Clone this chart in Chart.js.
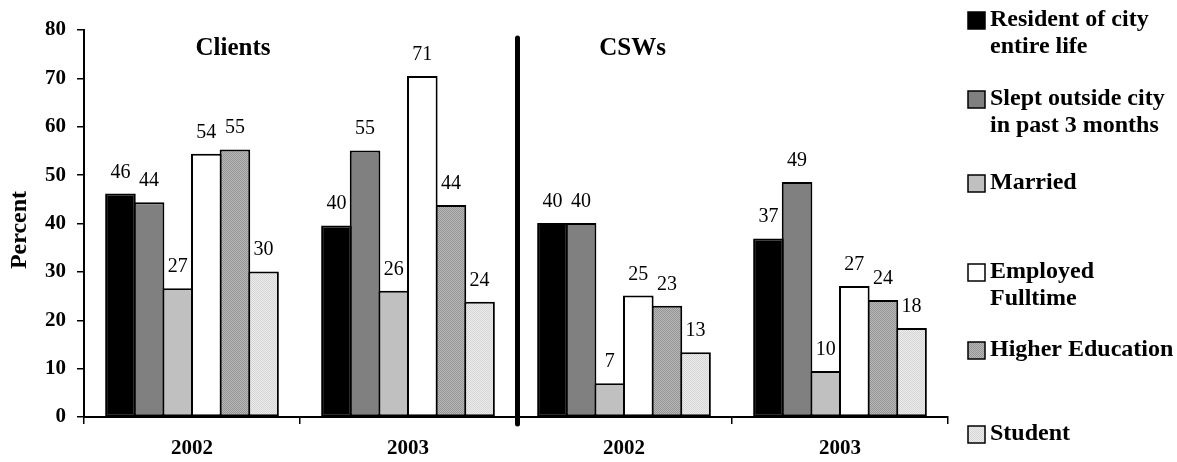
<!DOCTYPE html>
<html>
<head>
<meta charset="utf-8">
<script src="https://cdn.jsdelivr.net/npm/chart.js@4.4.1/dist/chart.umd.min.js"></script>
<style>
  html, body { margin: 0; padding: 0; background: #fff; }
  #wrap { width: 1177px; height: 462px; position: relative; }
</style>
</head>
<body>
<div id="wrap"><canvas id="c" width="1177" height="462"></canvas></div>
<script>
// ---- data ----
const categories = ["2002", "2003", "2002", "2003"];
const groupTitles = ["Clients", "CSWs"];
const seriesNames = [
  ["Resident of city", "entire life"],
  ["Slept outside city", "in past 3 months"],
  ["Married"],
  ["Employed", "Fulltime"],
  ["Higher Education"],
  ["Student"]
];
const residentValues  = [46.2, 39.6, 40.1, 36.9];
const sleptValues     = [44.4, 55.1, 40.1, 48.6];
const marriedValues   = [26.6, 26.1, 7.0, 9.5];
const employedValues  = [54.4, 70.5, 25.1, 27.1];
const higherEdValues  = [55.3, 43.8, 23.0, 24.2];
const studentValues   = [30.1, 23.8, 13.4, 18.4];
const yTicks = [0, 10, 20, 30, 40, 50, 60, 70, 80];

// ---- patterns ----
function dotPattern(a, b) {
  const p = document.createElement('canvas');
  p.width = 2; p.height = 2;
  const g = p.getContext('2d');
  g.fillStyle = a; g.fillRect(0, 0, 2, 2);
  g.fillStyle = b;
  g.fillRect(0, 0, 1, 1);
  g.fillRect(1, 1, 1, 1);
  return g.createPattern(p, 'repeat');
}
const ctx = document.getElementById('c').getContext('2d');
const fills = [
  '#000000',
  '#808080',
  '#c0c0c0',
  '#ffffff',
  dotPattern('#b8b8b8', '#949494'),
  dotPattern('#ececec', '#d6d6d6')
];
const allValues = [residentValues, sleptValues, marriedValues, employedValues, higherEdValues, studentValues];

const datasets = allValues.map((vals, i) => ({
  label: seriesNames[i].join(' '),
  data: vals,
  backgroundColor: fills[i],
  borderColor: '#000',
  borderWidth: 2,
  borderSkipped: false,
  barPercentage: 1.07,
  categoryPercentage: 0.795
}));

const FONT = "'Liberation Serif', 'Times New Roman', serif";

const decor = {
  id: 'decor',
  afterDatasetsDraw(chart) {
    const c = chart.ctx;
    c.save();
    c.fillStyle = '#000';
    c.font = "20px " + FONT;
    c.textAlign = 'center';
    c.textBaseline = 'alphabetic';
    chart.data.datasets.forEach((ds, i) => {
      const meta = chart.getDatasetMeta(i);
      meta.data.forEach((el, j) => {
        c.fillText(String(Math.round(ds.data[j])), el.x, el.y - 16);
      });
    });
    c.restore();
  },
  afterDraw(chart) {
    const c = chart.ctx;
    const area = chart.chartArea;
    const xs = chart.scales.x;
    c.save();
    // divider between Clients and CSWs
    const divX = (xs.getPixelForValue(1) + xs.getPixelForValue(2)) / 2 + 1.5;
    c.strokeStyle = '#000';
    c.lineWidth = 5;
    c.lineCap = 'round';
    c.beginPath();
    c.moveTo(divX, area.top + 8);
    c.lineTo(divX, area.bottom + 7);
    c.stroke();
    // group titles
    c.fillStyle = '#000';
    c.font = "bold 25px " + FONT;
    c.textAlign = 'center';
    c.textBaseline = 'alphabetic';
    c.fillText(groupTitles[0], area.left + area.width * 0.1725, 55);
    c.fillText(groupTitles[1], area.left + area.width * 0.635, 55);
    // y-axis title
    c.save();
    c.translate(20, 230);
    c.rotate(-Math.PI / 2);
    c.font = "bold 24px " + FONT;
    c.textBaseline = 'middle';
    c.fillText('Percent', 0, 0);
    c.restore();
    // legend
    const firstLineY = [20, 99, 183, 272, 350, 434];
    c.font = "bold 24px " + FONT;
    c.textAlign = 'left';
    c.textBaseline = 'middle';
    chart.data.datasets.forEach((ds, i) => {
      const y = firstLineY[i];
      c.fillStyle = ds.backgroundColor;
      c.fillRect(968, y - 8, 17, 17);
      c.strokeStyle = '#000';
      c.lineWidth = 1.5;
      c.strokeRect(968, y - 8, 17, 17);
      c.fillStyle = '#000';
      seriesNames[i].forEach((line, k) => {
        c.fillText(line, 990, y + k * 27);
      });
    });
    c.restore();
  }
};

new Chart(ctx, {
  type: 'bar',
  data: { labels: categories, datasets },
  options: {
    responsive: false,
    animation: false,
    layout: { padding: { top: 30, right: 229, left: 0, bottom: 0 } },
    plugins: { legend: { display: false }, tooltip: { enabled: false } },
    scales: {
      x: {
        offset: true,
        grid: { display: true, drawOnChartArea: false, drawTicks: true, tickLength: 7, color: '#000', lineWidth: 1.5, offset: true },
        border: { display: true, color: '#000', width: 2 },
        ticks: { color: '#000', font: { family: FONT, size: 21, weight: 'bold' }, padding: 12, maxRotation: 0 },
        afterFit(s) { s.height = 45; }
      },
      y: {
        min: 0, max: 80,
        afterBuildTicks(s) { s.ticks = yTicks.map(v => ({ value: v })); },
        grid: { display: true, drawOnChartArea: false, drawTicks: true, tickLength: 7, color: '#000', lineWidth: 1.5 },
        border: { display: true, color: '#000', width: 2 },
        ticks: { color: '#000', font: { family: FONT, size: 21, weight: 'bold' }, padding: 11 },
        afterFit(s) { s.width = 84; }
      }
    }
  },
  plugins: [decor]
});
</script>
</body>
</html>
